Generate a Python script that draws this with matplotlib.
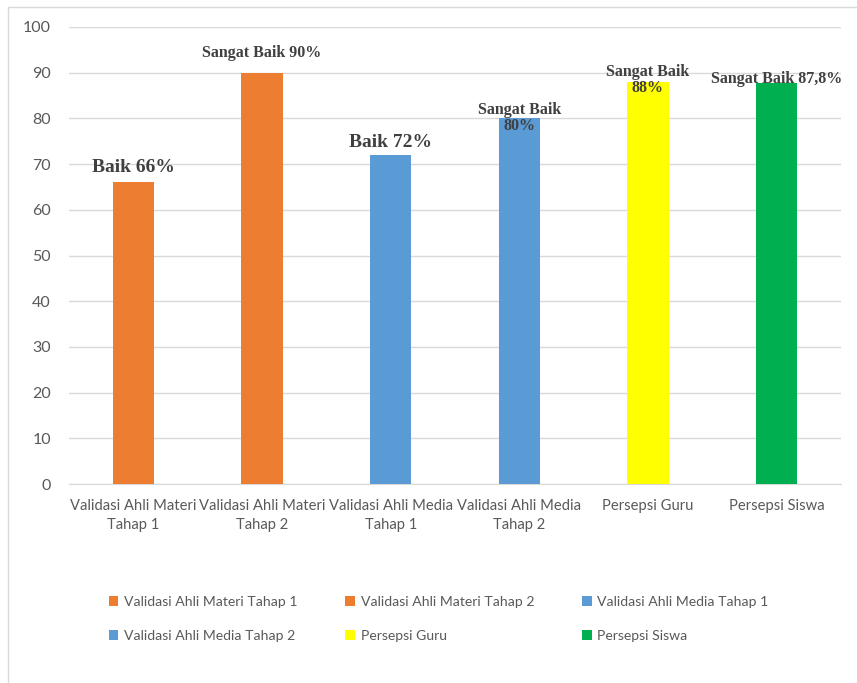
import matplotlib
matplotlib.use("Agg")
import matplotlib.pyplot as plt
from matplotlib.patches import Patch, Rectangle

categories = ["Validasi Ahli Materi Tahap 1", "Validasi Ahli Materi Tahap 2",
              "Validasi Ahli Media Tahap 1", "Validasi Ahli Media Tahap 2",
              "Persepsi Guru", "Persepsi Siswa"]
tick_labels = ["Validasi Ahli Materi\nTahap 1", "Validasi Ahli Materi\nTahap 2",
               "Validasi Ahli Media\nTahap 1", "Validasi Ahli Media\nTahap 2",
               "Persepsi Guru", "Persepsi Siswa"]
values = [66, 90, 72, 80, 88, 87.8]
bar_labels = ["Baik 66%", "Sangat Baik 90%", "Baik 72%", "Sangat Baik\n80%",
              "Sangat Baik\n88%", "Sangat Baik 87,8%"]
colors = ["#ED7D31", "#ED7D31", "#5B9BD5", "#5B9BD5", "#FFFF00", "#00B050"]
label_sizes = [14, 11.5, 14, 11.5, 11.5, 11.5]
label_offsets = [11, 14, 9, 0, 1.5, 3]  # points above bar top (center)
yticks = list(range(0, 101, 10))

W, H = 857, 683
fig = plt.figure(figsize=(W / 100, H / 100), dpi=100)
ax = fig.add_axes([69 / W, 1 - 484 / H, (841 - 69) / W, (484 - 27) / H])

tick_font = ["Lato", "DejaVu Sans"]
x = list(range(len(categories)))
ax.bar(x, values, width=0.32, color=colors, zorder=3)
ax.set_xlim(-0.5, len(categories) - 0.5)
ax.set_ylim(0, 100)
ax.set_yticks(yticks)
ax.set_yticklabels([str(t) for t in yticks], family=tick_font, fontsize=11.5, color="#595959")
ax.set_xticks(x)
ax.set_xticklabels(tick_labels, family=tick_font, fontsize=10.6, color="#595959", linespacing=1.45)
ax.tick_params(axis="both", length=0)
ax.tick_params(axis="y", pad=13)
ax.tick_params(axis="x", pad=11)
ax.grid(axis="y", color="#D9D9D9", linewidth=1, zorder=0)
for s in ["top", "right", "left"]:
    ax.spines[s].set_visible(False)
ax.spines["bottom"].set_color("#D9D9D9")

for xi, v, lab, fs, off in zip(x, values, bar_labels, label_sizes, label_offsets):
    ax.annotate(lab, (xi, v), xytext=(0, off), textcoords="offset points",
                ha="center", va="center", fontsize=fs, fontweight="bold",
                family=["Liberation Serif", "DejaVu Serif"], color="#404040",
                linespacing=1.0, zorder=4)

order = [0, 3, 1, 4, 2, 5]
handles = [Patch(facecolor=colors[i]) for i in order]
labels = [categories[i] for i in order]
fig.legend(handles, labels, ncol=3, loc="upper left",
           bbox_to_anchor=(96 / W, 1 - 583 / H), frameon=False,
           prop={"family": tick_font, "size": 10.1}, labelcolor="#595959",
           handlelength=0.7, handleheight=0.7, handletextpad=0.4,
           columnspacing=3.4, labelspacing=1.6)

fig.patches.append(Rectangle((8 / W, -0.05), (W - 9) / W - 8 / W + 0.1, 1 - 7 / H + 0.05,
                             transform=fig.transFigure, fill=False,
                             edgecolor="#D9D9D9", linewidth=1))

fig.savefig("out.png", dpi=100)
